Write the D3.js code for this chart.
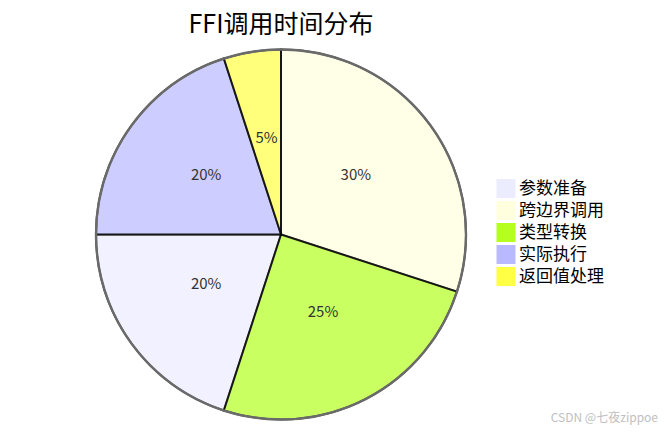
<!DOCTYPE html>
<html>
<head>
<meta charset="utf-8">
<script src="https://cdn.jsdelivr.net/npm/d3@7"></script>
<style>
  body { margin: 0; background: #fff; }
  svg { display: block; font-family: "Noto Sans CJK SC", "Noto Sans", sans-serif; }
</style>
</head>
<body>
<div id="chart"></div>
<script>
// pie data (legend order)
var categories = ["参数准备", "跨边界调用", "类型转换", "实际执行", "返回值处理"];
var values = [20, 30, 25, 20, 5];
var colors = ["#ececff", "#ffffde", "#b5ff20", "#b9b9ff", "#ffff45"];
var title = "FFI调用时间分布";

var width = 666, height = 434;
var cx = 281, cy = 234.5, radius = 185;

var svg = d3.select("#chart").append("svg")
  .attr("width", width)
  .attr("height", height);

var g = svg.append("g").attr("transform", "translate(" + cx + "," + cy + ")");

var data = categories.map(function(c, i) { return { label: c, value: values[i] }; });

var color = d3.scaleOrdinal().domain(categories).range(colors);

// largest slice first, clockwise from 12 o'clock
var pie = d3.pie().value(function(d) { return d.value; });
var arcs = pie(data);
var arc = d3.arc().innerRadius(0).outerRadius(radius);

g.selectAll(".slice")
  .data(arcs)
  .enter()
  .append("path")
    .attr("class", "slice")
    .attr("d", arc)
    .attr("fill", function(d) { return color(d.data.label); })
    .attr("stroke", "#000")
    .attr("stroke-width", 2)
    .attr("opacity", 0.7);

// outer ring on top, grey
g.append("circle")
  .attr("r", radius)
  .attr("fill", "none")
  .attr("stroke", "#6a6a6a")
  .attr("stroke-width", 2.4);

var total = d3.sum(values);
g.selectAll(".label")
  .data(arcs)
  .enter()
  .append("text")
    .attr("class", "label")
    .attr("transform", function(d) { return "translate(" + arc.centroid(d) + ")"; })
    .attr("text-anchor", "middle")
    .attr("font-size", "15px")
    .attr("fill", "#333")
    .text(function(d) { return Math.round(d.data.value / total * 100) + "%"; });

// title
svg.append("text")
  .attr("x", cx)
  .attr("y", 33)
  .attr("text-anchor", "middle")
  .attr("font-size", "25px")
  .attr("fill", "#000")
  .text(title);

// legend
var boxSize = 18, spacing = 4;
var rowH = boxSize + spacing;
var legend = g.selectAll(".legend")
  .data(categories)
  .enter()
  .append("g")
    .attr("class", "legend")
    .attr("transform", function(d, i) {
      return "translate(" + (12 * boxSize) + "," + (i * rowH - rowH * categories.length / 2) + ")";
    });

legend.append("rect")
  .attr("width", boxSize)
  .attr("height", boxSize)
  .attr("fill", function(d) { return color(d); })
  .attr("stroke", function(d) { return color(d); });

legend.append("text")
  .attr("x", boxSize + spacing)
  .attr("y", boxSize - spacing)
  .attr("font-size", "17px")
  .attr("fill", "#000")
  .text(function(d) { return d; });

// watermark
svg.append("text")
  .attr("x", 658)
  .attr("y", 422)
  .attr("text-anchor", "end")
  .attr("font-size", "12px")
  .attr("fill", "#c0c0c0")
  .text("CSDN @七夜zippoe");
</script>
</body>
</html>
